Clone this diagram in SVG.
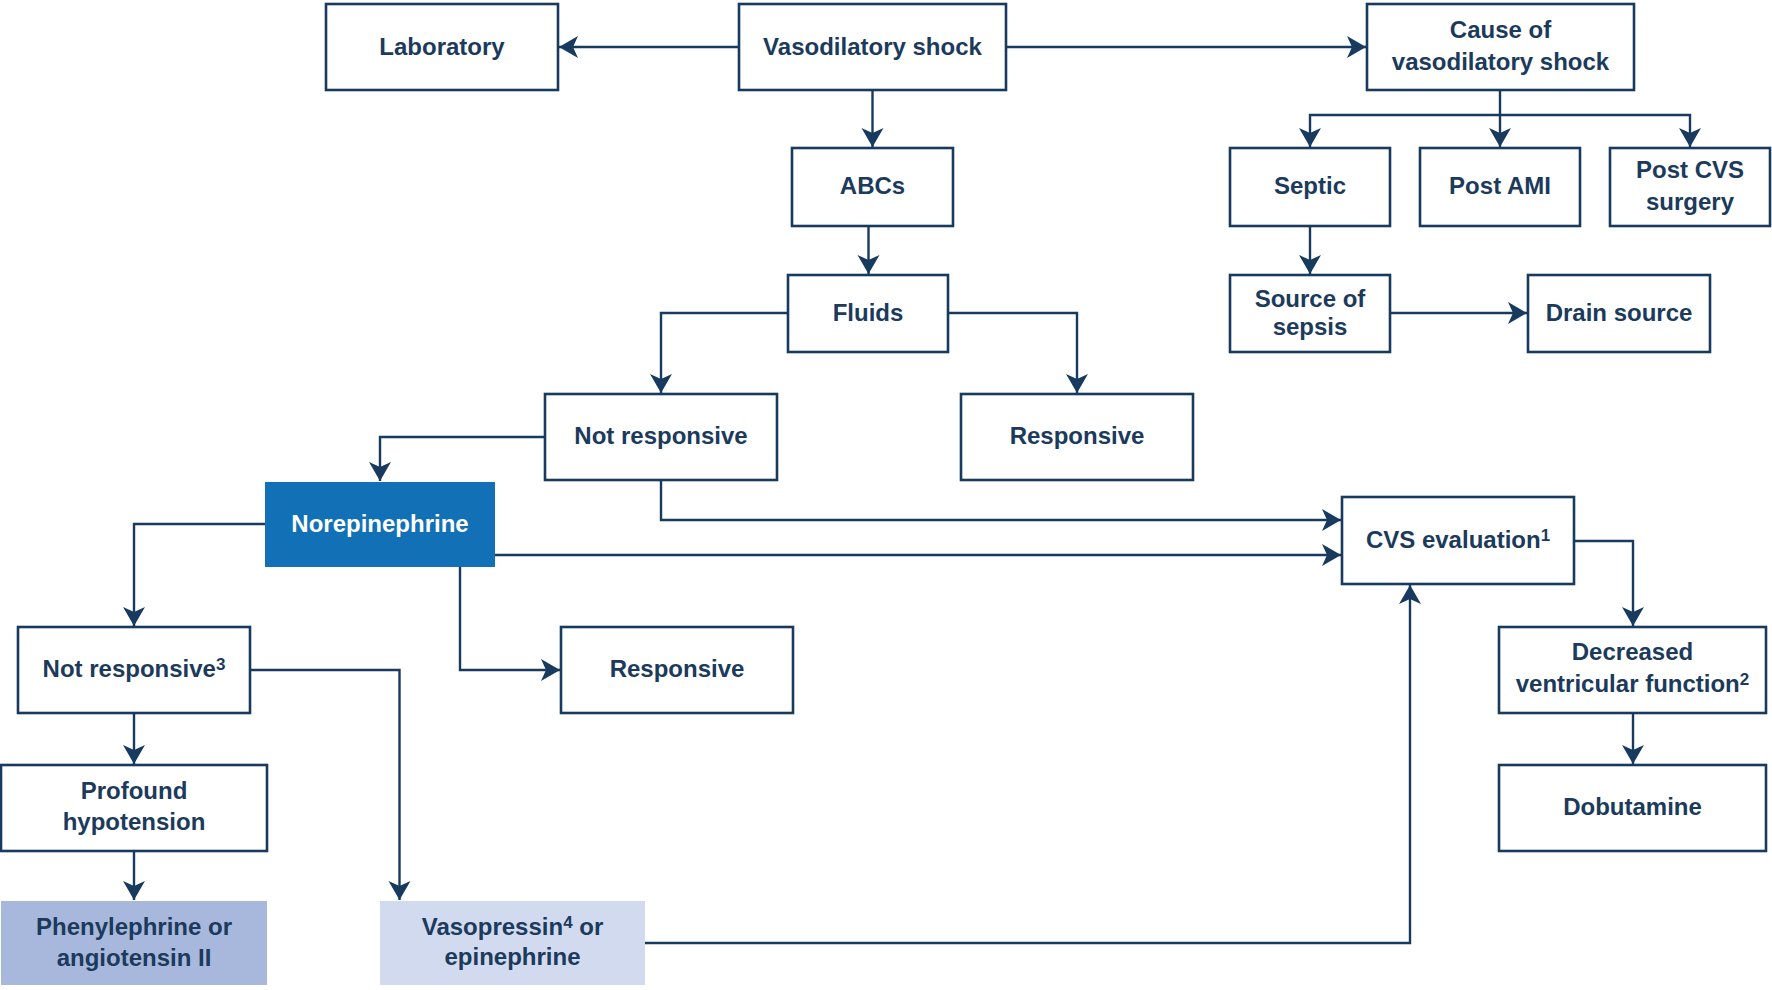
<svg xmlns="http://www.w3.org/2000/svg" width="1772" height="990" viewBox="0 0 1772 990">
<style>
.box{fill:#ffffff;stroke:#173a5e;stroke-width:2.6}
.t{font-family:"Liberation Sans",Arial,sans-serif;font-weight:bold;font-size:24px;fill:#1b3a5c;text-anchor:middle}
.w{fill:#ffffff}
.c{fill:none;stroke:#173a5e;stroke-width:2.4;marker-end:url(#ah)}
.sup{font-size:17px}
</style>
<defs>
<marker id="ah" markerUnits="userSpaceOnUse" viewBox="-20 -12 21 24" markerWidth="21" markerHeight="24" refX="0" refY="0" orient="auto">
<path d="M0,0 L-19,-11 L-14,0 L-19,11 Z" fill="#173a5e"/>
</marker>
</defs>
<rect width="1772" height="990" fill="#ffffff"/>
<g id="connectors">
<path class="c" d="M739,47 H559"/>
<path class="c" d="M1006,47 H1366"/>
<path class="c" d="M872.5,90 V147"/>
<path class="c" d="M868.5,226 V274"/>
<path class="c" d="M788,313 H661 V393"/>
<path class="c" d="M948,313 H1077 V393"/>
<path class="c" d="M1500,115 H1310 V147"/>
<path class="c" d="M1500,90 V147"/>
<path class="c" d="M1500,115 H1690 V147"/>
<path class="c" d="M1310,226 V274"/>
<path class="c" d="M1390,313 H1527"/>
<path class="c" d="M545,437 H380 V481"/>
<path class="c" d="M661,480 V520 H1341"/>
<path class="c" d="M495,555 H1341"/>
<path class="c" d="M265,524 H134 V626"/>
<path class="c" d="M460,567 V670 H560"/>
<path class="c" d="M134,713 V764"/>
<path class="c" d="M250,670 H399.5 V900"/>
<path class="c" d="M134,851 V900"/>
<path class="c" d="M645,943 H1410 V585"/>
<path class="c" d="M1574,541 H1633 V626"/>
<path class="c" d="M1633,713 V764"/>
</g>
<g id="laboratory"><rect class="box" x="326" y="4" width="232" height="86"/><text class="t" x="442" y="55">Laboratory</text></g>
<g id="vasodilatory-shock"><rect class="box" x="739" y="4" width="267" height="86"/><text class="t" x="872.5" y="55">Vasodilatory shock</text></g>
<g id="cause"><rect class="box" x="1367" y="4" width="267" height="86"/><text class="t" x="1500.5" y="38">Cause of</text><text class="t" x="1500.5" y="70">vasodilatory shock</text></g>
<g id="abcs"><rect class="box" x="792" y="148" width="161" height="78"/><text class="t" x="872.5" y="194">ABCs</text></g>
<g id="fluids"><rect class="box" x="788" y="275" width="160" height="77"/><text class="t" x="868" y="321">Fluids</text></g>
<g id="not-responsive-1"><rect class="box" x="545" y="394" width="232" height="86"/><text class="t" x="661" y="444">Not responsive</text></g>
<g id="responsive-1"><rect class="box" x="961" y="394" width="232" height="86"/><text class="t" x="1077" y="444">Responsive</text></g>
<g id="septic"><rect class="box" x="1230" y="148" width="160" height="78"/><text class="t" x="1310" y="194">Septic</text></g>
<g id="post-ami"><rect class="box" x="1420" y="148" width="160" height="78"/><text class="t" x="1500" y="194">Post AMI</text></g>
<g id="post-cvs"><rect class="box" x="1610" y="148" width="160" height="78"/><text class="t" x="1690" y="178">Post CVS</text><text class="t" x="1690" y="210">surgery</text></g>
<g id="source-of-sepsis"><rect class="box" x="1230" y="275" width="160" height="77"/><text class="t" x="1310" y="307">Source of</text><text class="t" x="1310" y="335">sepsis</text></g>
<g id="drain-source"><rect class="box" x="1528" y="275" width="182" height="77"/><text class="t" x="1619" y="321">Drain source</text></g>
<g id="norepinephrine"><rect x="265" y="482" width="230" height="85" fill="#1170b6"/><text class="t w" x="380" y="532">Norepinephrine</text></g>
<g id="not-responsive-3"><rect class="box" x="18" y="627" width="232" height="86"/><text class="t" x="134" y="677">Not responsive<tspan class="sup" baseline-shift="7">3</tspan></text></g>
<g id="responsive-2"><rect class="box" x="561" y="627" width="232" height="86"/><text class="t" x="677" y="677">Responsive</text></g>
<g id="profound-hypotension"><rect class="box" x="1" y="765" width="266" height="86"/><text class="t" x="134" y="799">Profound</text><text class="t" x="134" y="830">hypotension</text></g>
<g id="phenylephrine"><rect x="1" y="901" width="266" height="84" fill="#a8b8dc"/><text class="t" x="134" y="935">Phenylephrine or</text><text class="t" x="134" y="966">angiotensin II</text></g>
<g id="vasopressin"><rect x="380" y="901" width="265" height="84" fill="#d1daef"/><text class="t" x="512.5" y="935">Vasopressin<tspan class="sup" baseline-shift="7">4</tspan> or</text><text class="t" x="512.5" y="965">epinephrine</text></g>
<g id="cvs-evaluation"><rect class="box" x="1342" y="497" width="232" height="87"/><text class="t" x="1458" y="548">CVS evaluation<tspan class="sup" baseline-shift="7">1</tspan></text></g>
<g id="decreased-ventricular-function"><rect class="box" x="1499" y="627" width="267" height="86"/><text class="t" x="1632.5" y="660">Decreased</text><text class="t" x="1632.5" y="692">ventricular function<tspan class="sup" baseline-shift="7">2</tspan></text></g>
<g id="dobutamine"><rect class="box" x="1499" y="765" width="267" height="86"/><text class="t" x="1632.5" y="815">Dobutamine</text></g>
</svg>
